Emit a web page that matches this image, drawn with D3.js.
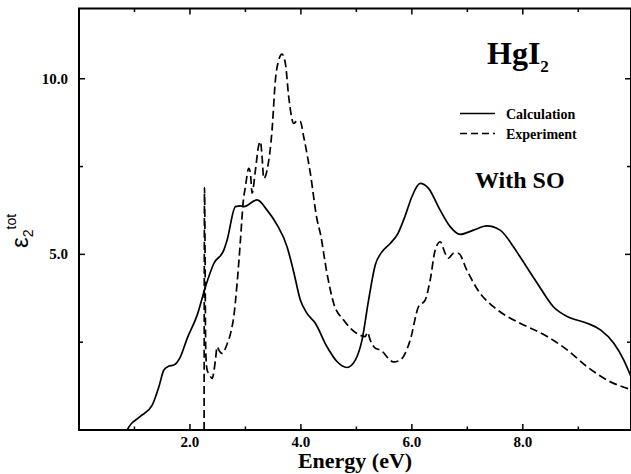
<!DOCTYPE html>
<html>
<head>
<meta charset="utf-8">
<script src="https://cdn.jsdelivr.net/npm/d3@7"></script>
<style>
body { margin: 0; background: #fff; }
text { font-family: "Liberation Serif", "Times New Roman", serif; font-weight: bold; fill: #000; }
</style>
</head>
<body>
<script>
var xMajor = [2, 4, 6, 8];
var xMinor = [1, 3, 5, 7, 9];
var yMajor = [5, 10];
var yMinor = [2.5, 7.5];
var xTickLabels = ['2.0', '4.0', '6.0', '8.0'];
var yTickLabels = ['5.0', '10.0'];

// energy (eV), eps2
var calcE = [0.87, 0.90, 1.10, 1.32, 1.44, 1.53, 1.62, 1.71, 1.83, 1.95, 2.13, 2.28, 2.43, 2.61, 2.67, 2.82, 2.91, 2.97, 3.21, 3.39, 3.57, 3.75, 3.87, 3.99, 4.11, 4.26, 4.47, 4.65, 4.83, 4.98, 5.10, 5.22, 5.34, 5.45, 5.61, 5.75, 5.88, 6.00, 6.15, 6.30, 6.51, 6.69, 6.87, 7.11, 7.35, 7.59, 7.83, 7.95, 8.26, 8.55, 8.80, 9.16, 9.40, 9.64, 9.82, 9.95];
var calcV = [0, 0.09, 0.38, 0.71, 1.23, 1.71, 1.82, 1.85, 2.09, 2.61, 3.27, 4.08, 4.74, 5.12, 5.41, 6.36, 6.38, 6.36, 6.55, 6.26, 5.84, 5.22, 4.5, 3.70, 3.32, 3.04, 2.37, 1.95, 1.78, 1.99, 2.55, 3.7, 4.7, 5.05, 5.31, 5.6, 6.1, 6.64, 7.02, 6.88, 6.26, 5.79, 5.57, 5.69, 5.81, 5.69, 5.22, 4.93, 4.18, 3.51, 3.23, 3.04, 2.85, 2.47, 1.99, 1.52];

var expE = [2.255, 2.262, 2.285, 2.31, 2.34, 2.40, 2.46, 2.49, 2.53, 2.58, 2.67, 2.74, 2.79, 2.85, 2.91, 2.96, 3.00, 3.06, 3.09, 3.12, 3.18, 3.24, 3.27, 3.30, 3.33, 3.39, 3.48, 3.54, 3.60, 3.66, 3.72, 3.78, 3.87, 3.93, 3.99, 4.05, 4.17, 4.29, 4.35, 4.47, 4.59, 4.77, 5.01, 5.16, 5.20, 5.25, 5.34, 5.43, 5.67, 5.79, 5.97, 6.12, 6.24, 6.33, 6.42, 6.51, 6.60, 6.66, 6.75, 6.84, 6.99, 7.23, 7.47, 7.72, 7.95, 8.44, 8.80, 9.16, 9.52, 9.95];
var expV = [0, 6.9, 2.2, 1.7, 1.61, 1.47, 2.0, 2.37, 2.25, 2.18, 2.45, 2.8, 3.23, 4.18, 5.4, 6.5, 6.93, 7.45, 7.31, 6.74, 7.40, 8.11, 8.21, 7.78, 7.16, 7.40, 8.54, 9.96, 10.53, 10.70, 10.44, 9.49, 8.73, 8.80, 8.78, 8.35, 7.31, 6.0, 5.6, 4.46, 3.61, 3.13, 2.75, 2.66, 2.78, 2.56, 2.33, 2.28, 1.94, 1.99, 2.56, 3.51, 3.70, 4.27, 5.12, 5.36, 5.03, 4.89, 5.03, 5.03, 4.55, 3.89, 3.51, 3.23, 3.04, 2.66, 2.28, 1.80, 1.42, 1.15];

var width = 631, height = 474;
var pLeft = 79, pRight = 631, pTop = 8.5, pBottom = 430;

var svg = d3.select('body').append('svg')
  .attr('width', width)
  .attr('height', height);

var x = d3.scaleLinear().domain([0, 9.95]).range([pLeft, pRight]);
var y = d3.scaleLinear().domain([0, 12]).range([pBottom, pTop]);

svg.append('defs').append('clipPath').attr('id', 'plot')
  .append('rect')
  .attr('x', pLeft).attr('y', pTop)
  .attr('width', pRight - pLeft).attr('height', pBottom - pTop);

function pairs(xs, ys) {
  return xs.map(function(d, i){ return [d, ys[i]]; });
}

var line = d3.line()
  .x(function(d){ return x(d[0]); })
  .y(function(d){ return y(d[1]); })
  .curve(d3.curveMonotoneX);

var g = svg.append('g').attr('clip-path', 'url(#plot)');

g.append('path')
  .datum(pairs(calcE, calcV))
  .attr('d', line)
  .attr('fill', 'none')
  .attr('stroke', '#000')
  .attr('stroke-width', 1.7);

g.append('path')
  .datum(pairs(expE, expV))
  .attr('d', line)
  .attr('fill', 'none')
  .attr('stroke', '#000')
  .attr('stroke-width', 1.7)
  .attr('stroke-dasharray', '8,4');

// frame
svg.append('rect')
  .attr('x', pLeft).attr('y', pTop)
  .attr('width', pRight - pLeft).attr('height', pBottom - pTop)
  .attr('fill', 'none')
  .attr('stroke', '#000')
  .attr('stroke-width', 2);

// inward ticks on all four sides
function xTicks(vals, len) {
  svg.append('g').selectAll('line')
    .data(vals).enter().append('line')
    .attr('x1', function(d){ return x(d); }).attr('x2', function(d){ return x(d); })
    .attr('y1', pBottom).attr('y2', pBottom - len)
    .attr('stroke', '#000').attr('stroke-width', 1.5);
  svg.append('g').selectAll('line')
    .data(vals).enter().append('line')
    .attr('x1', function(d){ return x(d); }).attr('x2', function(d){ return x(d); })
    .attr('y1', pTop).attr('y2', pTop + len)
    .attr('stroke', '#000').attr('stroke-width', 1.5);
}
function yTicks(vals, len) {
  svg.append('g').selectAll('line')
    .data(vals).enter().append('line')
    .attr('y1', function(d){ return y(d); }).attr('y2', function(d){ return y(d); })
    .attr('x1', pLeft).attr('x2', pLeft + len)
    .attr('stroke', '#000').attr('stroke-width', 1.5);
  svg.append('g').selectAll('line')
    .data(vals).enter().append('line')
    .attr('y1', function(d){ return y(d); }).attr('y2', function(d){ return y(d); })
    .attr('x1', pRight).attr('x2', pRight - len)
    .attr('stroke', '#000').attr('stroke-width', 1.5);
}
xTicks(xMajor, 6);
xTicks(xMinor, 3.5);
yTicks(yMajor, 6);
yTicks(yMinor, 4);

svg.append('g').selectAll('text')
  .data(xMajor).enter().append('text')
  .attr('x', function(d){ return x(d); })
  .attr('y', 447)
  .attr('text-anchor', 'middle')
  .style('font-size', '15px')
  .text(function(d, i){ return xTickLabels[i]; });

svg.append('g').selectAll('text')
  .data(yMajor).enter().append('text')
  .attr('x', 68)
  .attr('y', function(d){ return y(d) + 5; })
  .attr('text-anchor', 'end')
  .style('font-size', '15px')
  .text(function(d, i){ return yTickLabels[i]; });

svg.append('text')
  .attr('x', (pLeft + pRight) / 2)
  .attr('y', 468)
  .attr('text-anchor', 'middle')
  .style('font-size', '22px')
  .text('Energy (eV)');

var ylab = svg.append('text')
  .attr('transform', 'translate(28,248) rotate(-90)')
  .style('font-family', '"Liberation Sans", Arial, sans-serif')
  .style('font-weight', 'normal');
ylab.append('tspan').style('font-size', '24px').text('ε');
ylab.append('tspan').style('font-size', '14px').attr('dy', 5).text('2');
ylab.append('tspan').style('font-size', '14px').attr('dy', -17).text('tot');

var title = svg.append('text').attr('x', 487).attr('y', 64).style('font-size', '32px');
title.append('tspan').text('HgI');
title.append('tspan').style('font-size', '17px').attr('dy', 8).text('2');

var legend = [['Calculation', null, 113.5], ['Experiment', '7,4', 133.5]];
legend.forEach(function(d){
  svg.append('line')
    .attr('x1', 460).attr('x2', 495)
    .attr('y1', d[2]).attr('y2', d[2])
    .attr('stroke', '#000').attr('stroke-width', 1.7)
    .attr('stroke-dasharray', d[1]);
  svg.append('text')
    .attr('x', 506).attr('y', d[2] + 5)
    .style('font-size', '14px')
    .text(d[0]);
});

svg.append('text')
  .attr('x', 475).attr('y', 188)
  .style('font-size', '24px')
  .text('With SO');
</script>
</body>
</html>
